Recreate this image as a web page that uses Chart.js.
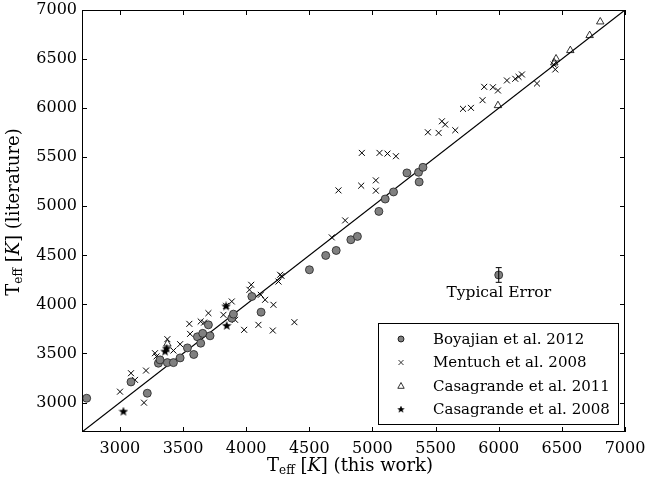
<!DOCTYPE html>
<html>
<head>
<meta charset="utf-8">
<script src="https://cdn.jsdelivr.net/npm/chart.js@4.4.0/dist/chart.umd.min.js"></script>
<style>
  html, body { margin: 0; padding: 0; background: #fff; }
  #wrap { width: 647px; height: 477px; }
</style>
</head>
<body>
<div id="wrap"><canvas id="myChart" width="647" height="477"></canvas></div>
<script>
// Boyajian et al. 2012 (grey circles)
const boyX = [2737, 3088, 3217, 3305, 3318, 3376, 3424, 3477, 3535, 3585, 3614, 3640, 3656, 3701, 3714,
  3886, 3899, 4045, 4118, 4501, 4630, 4713, 4829, 4881, 5051, 5101, 5167, 5273, 5365, 5370, 5400];
const boyY = [3044, 3210, 3095, 3401, 3435, 3407, 3407, 3455, 3557, 3490, 3670, 3605, 3705, 3792, 3680,
  3860, 3901, 4081, 3921, 4353, 4499, 4550, 4659, 4693, 4948, 5074, 5146, 5340, 5346, 5248, 5397];

// Mentuch et al. 2008 (crosses)
const menX = [3001, 3191, 3088, 3120, 3207, 3278, 3290, 3376, 3424, 3477, 3550, 3556, 3640, 3667, 3701,
  3820, 3841, 3886, 3912, 3984, 4026, 4040, 4097, 4116, 4150, 4211, 4216, 4256, 4269, 4280, 4382,
  4678, 4731, 4784, 4911, 4916, 5027, 5027, 5056, 5119, 5186, 5439, 5524, 5550, 5576, 5656, 5717,
  5780, 5872, 5885, 5954, 5994, 6065, 6131, 6157, 6184, 6303, 6435, 6448];
const menY = [3111, 2999, 3299, 3231, 3326, 3503, 3470, 3646, 3530, 3595, 3802, 3700, 3826, 3815, 3911,
  3894, 3986, 4030, 3843, 3741, 4149, 4200, 3792, 4098, 4047, 3734, 3996, 4233, 4302, 4290, 3819,
  4683, 5162, 4856, 5210, 5544, 5264, 5159, 5544, 5537, 5510, 5754, 5748, 5866, 5833, 5775, 5993,
  6003, 6081, 6217, 6213, 6180, 6282, 6299, 6319, 6343, 6251, 6445, 6394];

// Casagrande et al. 2011 (open triangles)
const cas11X = [3376, 5994, 6440, 6454, 6567, 6720, 6804];
const cas11Y = [3598, 6027, 6462, 6503, 6588, 6741, 6880];

// Casagrande et al. 2008 (stars)
const cas08X = [3028, 3358, 3370, 3846, 3841];
const cas08Y = [2907, 3519, 3550, 3782, 3980];

// typical error marker
const errX = [6000];
const errY = [4300];
const errBar = [75];

// one-to-one line
const lineEnds = [2700, 7000];

const labels = ['Boyajian et al. 2012', 'Mentuch et al. 2008', 'Casagrande et al. 2011', 'Casagrande et al. 2008'];
const tickVals = [3000, 3500, 4000, 4500, 5000, 5500, 6000, 6500, 7000];
const axisMin = 2700, axisMax = 7000;

function pts(xs, ys) {
  return xs.map((x, i) => ({x: x, y: ys[i]}));
}

// filled five point star as point image
function makeStar(size) {
  const c = document.createElement('canvas');
  c.width = size; c.height = size;
  const g = c.getContext('2d');
  const cx = size / 2, cy = size / 2, ro = size / 2, ri = ro * 0.42;
  g.beginPath();
  for (let i = 0; i < 10; i++) {
    const r = i % 2 === 0 ? ro : ri;
    const a = -Math.PI / 2 + i * Math.PI / 5;
    g.lineTo(cx + r * Math.cos(a), cy + r * Math.sin(a));
  }
  g.closePath();
  g.fillStyle = '#000';
  g.fill();
  return c;
}
const starImg = makeStar(10);

const SERIF = "'DejaVu Serif', serif";
const GREY = '#808080';

// draws "T_eff [K] <rest>" centered at 0,0 of the current transform
function drawTeff(ctx, rest) {
  const size = 18;
  const parts = [
    {t: 'T', f: size + 'px ' + SERIF, dy: 0},
    {t: 'eff', f: '12px ' + SERIF, dy: 3},
    {t: ' [', f: size + 'px ' + SERIF, dy: 0},
    {t: 'K', f: 'italic ' + size + 'px ' + SERIF, dy: 0},
    {t: '] ' + rest, f: size + 'px ' + SERIF, dy: 0}
  ];
  let w = 0;
  parts.forEach(p => { ctx.font = p.f; p.w = ctx.measureText(p.t).width; w += p.w; });
  let x = -w / 2;
  ctx.textBaseline = 'alphabetic';
  ctx.textAlign = 'left';
  parts.forEach(p => { ctx.font = p.f; ctx.fillText(p.t, x, p.dy); x += p.w; });
}

const decorPlugin = {
  id: 'decor',
  afterDraw(chart) {
    const ctx = chart.ctx;
    const a = chart.chartArea;
    const xs = chart.scales.x, ys = chart.scales.y;
    ctx.save();
    ctx.fillStyle = '#000';
    ctx.strokeStyle = '#000';

    // frame
    ctx.lineWidth = 1;
    ctx.strokeRect(a.left + 0.5, a.top + 0.5, a.right - a.left - 1, a.bottom - a.top - 1);

    // inward ticks on all sides
    const tl = 5;
    ctx.beginPath();
    xs.ticks.forEach(t => {
      const px = Math.round(xs.getPixelForValue(t.value)) + 0.5;
      ctx.moveTo(px, a.bottom); ctx.lineTo(px, a.bottom - tl);
      ctx.moveTo(px, a.top); ctx.lineTo(px, a.top + tl);
    });
    ys.ticks.forEach(t => {
      const py = Math.round(ys.getPixelForValue(t.value)) + 0.5;
      ctx.moveTo(a.left, py); ctx.lineTo(a.left + tl, py);
      ctx.moveTo(a.right, py); ctx.lineTo(a.right - tl, py);
    });
    ctx.stroke();

    // typical error bar
    errX.forEach((ex, i) => {
      const px = xs.getPixelForValue(ex);
      const top = ys.getPixelForValue(errY[i] + errBar[i]);
      const bot = ys.getPixelForValue(errY[i] - errBar[i]);
      ctx.beginPath();
      ctx.moveTo(px, top); ctx.lineTo(px, bot);
      ctx.moveTo(px - 3, top); ctx.lineTo(px + 3, top);
      ctx.moveTo(px - 3, bot); ctx.lineTo(px + 3, bot);
      ctx.stroke();
      ctx.font = '15.5px ' + SERIF;
      ctx.textAlign = 'center';
      ctx.textBaseline = 'top';
      ctx.fillText('Typical Error', px, ys.getPixelForValue(errY[i]) + 10);
    });

    // legend box
    const lx = 378, ly = 323, lw = 240, lh = 101;
    ctx.fillStyle = '#fff';
    ctx.fillRect(lx, ly, lw, lh);
    ctx.strokeRect(lx + 0.5, ly + 0.5, lw, lh);
    ctx.font = '15px ' + SERIF;
    ctx.textAlign = 'left';
    ctx.textBaseline = 'middle';
    labels.forEach((lab, i) => {
      const yy = ly + 16 + i * 23.5;
      const mx = lx + 23;
      ctx.lineWidth = 0.8;
      ctx.strokeStyle = '#000';
      if (i === 0) {
        ctx.beginPath(); ctx.arc(mx, yy, 3, 0, Math.PI * 2);
        ctx.fillStyle = GREY; ctx.fill(); ctx.stroke();
      } else if (i === 1) {
        ctx.beginPath();
        ctx.moveTo(mx - 2.5, yy - 2.5); ctx.lineTo(mx + 2.5, yy + 2.5);
        ctx.moveTo(mx + 2.5, yy - 2.5); ctx.lineTo(mx - 2.5, yy + 2.5);
        ctx.stroke();
      } else if (i === 2) {
        ctx.beginPath();
        ctx.moveTo(mx, yy - 3.5); ctx.lineTo(mx + 3.2, yy + 2.3); ctx.lineTo(mx - 3.2, yy + 2.3);
        ctx.closePath(); ctx.stroke();
      } else {
        ctx.drawImage(starImg, mx - 4, yy - 4, 8, 8);
      }
      ctx.fillStyle = '#000';
      ctx.fillText(lab, lx + 55, yy + 1);
    });

    // axis titles
    ctx.save();
    ctx.translate(350, 471);
    drawTeff(ctx, '(this work)');
    ctx.restore();
    ctx.save();
    ctx.translate(19, 212);
    ctx.rotate(-Math.PI / 2);
    drawTeff(ctx, '(literature)');
    ctx.restore();

    ctx.restore();
  }
};

function axisOpts(pad, fit) {
  return {
    type: 'linear',
    min: axisMin,
    max: axisMax,
    grid: {display: false, drawTicks: false},
    border: {display: false},
    ticks: {
      padding: pad,
      color: '#000',
      font: {family: SERIF, size: 16},
      autoSkip: false,
      maxRotation: 0,
      callback: v => String(v)
    },
    afterBuildTicks: s => { s.ticks = tickVals.map(v => ({value: v})); },
    afterFit: s => {
      fit(s);
      s.paddingLeft = 0; s.paddingRight = 0;
      s.paddingTop = 0; s.paddingBottom = 0;
    }
  };
}

const ctx = document.querySelector('#myChart').getContext('2d');
const myChart = new Chart(ctx, {
  type: 'scatter',
  data: {
    datasets: [
      {
        type: 'line', label: 'one-to-one', data: pts(lineEnds, lineEnds),
        borderColor: '#000', borderWidth: 1.2, pointRadius: 0, order: 10
      },
      {
        label: labels[0], data: pts(boyX, boyY), pointStyle: 'circle', pointRadius: 4,
        backgroundColor: GREY, borderColor: '#222', borderWidth: 0.8
      },
      {
        label: labels[1], data: pts(menX, menY), pointStyle: 'crossRot', pointRadius: 4.2,
        borderColor: '#000', borderWidth: 1
      },
      {
        label: labels[2], data: pts(cas11X, cas11Y), pointStyle: 'triangle', pointRadius: 4.3,
        backgroundColor: 'rgba(255,255,255,0)', borderColor: '#000', borderWidth: 0.8
      },
      {
        label: labels[3], data: pts(cas08X, cas08Y), pointStyle: starImg, pointRadius: 5
      },
      {
        label: 'Typical Error', data: pts(errX, errY), pointStyle: 'circle', pointRadius: 4,
        backgroundColor: GREY, borderColor: '#222', borderWidth: 0.8
      }
    ]
  },
  options: {
    responsive: false,
    animation: false,
    layout: {padding: {top: 10, right: 22, left: 0, bottom: 0}},
    plugins: {
      legend: {display: false},
      tooltip: {enabled: false},
      title: {display: false}
    },
    scales: {
      x: axisOpts(7, s => { s.height = 45; }),
      y: axisOpts(5, s => { s.width = 82; })
    }
  },
  plugins: [decorPlugin]
});
</script>
</body>
</html>
